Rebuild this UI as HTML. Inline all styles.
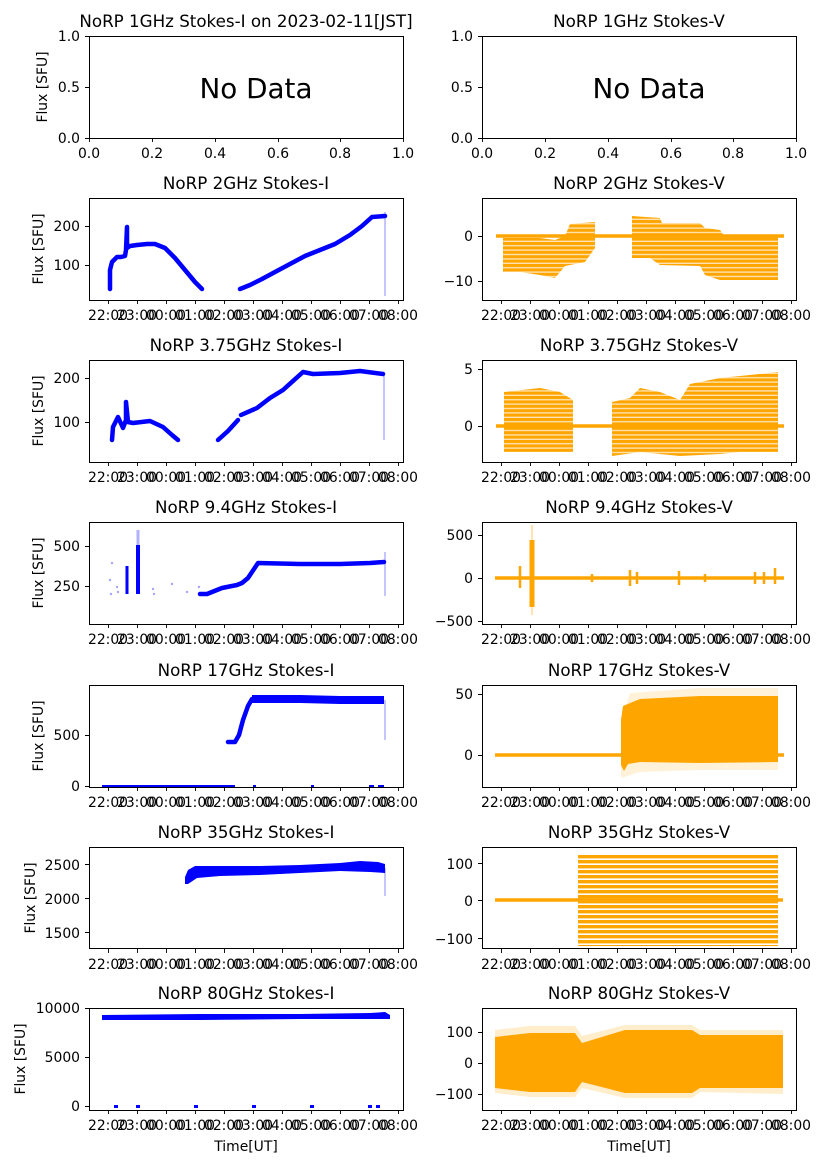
<!DOCTYPE html>
<html><head><meta charset="utf-8"><style>
html,body{margin:0;padding:0;background:#fff}
svg{display:block}
text{font-family:"DejaVu Sans","Liberation Sans",sans-serif;fill:#000}
.t{font-size:16.7px;text-anchor:middle}
.k{font-size:13.9px;text-anchor:middle}
.l{font-size:13.9px;text-anchor:middle}
.y{font-size:13.9px;text-anchor:end}
.ax{fill:none;stroke:#000;stroke-width:1}
.tk{stroke:#000;stroke-width:0.9}
.b{fill:none;stroke:#0000ff;stroke-width:4.5;stroke-linejoin:round;stroke-linecap:round}
.bs{stroke:#0000ff;stroke-width:1.5;opacity:0.3}
.ol{stroke:#ffa500;stroke-width:3.5}
</style></head><body>
<svg width="827" height="1169" viewBox="0 0 827 1169" xmlns="http://www.w3.org/2000/svg">
<defs>
<pattern id="st" width="10" height="4.4" patternUnits="userSpaceOnUse"><rect width="10" height="3.2" fill="#ffa500"/><rect y="3.2" width="10" height="1.2" fill="#ffe2b0"/></pattern>
<pattern id="st6" width="10" height="5" patternUnits="userSpaceOnUse"><rect width="10" height="3.4" fill="#ffa500"/></pattern>
</defs>

<!-- Row 1 -->
<text class="t" x="246" y="27">NoRP 1GHz Stokes-I on 2023-02-11[JST]</text>
<text class="t" x="639" y="27">NoRP 1GHz Stokes-V</text>
<rect class="ax" x="89.5" y="36.5" width="314" height="102"/>
<rect class="ax" x="482.5" y="36.5" width="314" height="102"/>
<text x="256" y="98" style="font-size:27.8px;text-anchor:middle">No Data</text>
<text x="649" y="98" style="font-size:27.8px;text-anchor:middle">No Data</text>
<g class="tk"><path d="M85 36.5h4M85 87.5h4M85 138.5h4M478 36.5h4M478 87.5h4M478 138.5h4"/>
<path d="M89.5 138v4M152.5 138v4M215.5 138v4M278.5 138v4M340.5 138v4M403.5 138v4M482.5 138v4M545.5 138v4M608.5 138v4M671.5 138v4M733.5 138v4M796.5 138v4"/></g>
<text class="y" x="80" y="41">1.0</text><text class="y" x="80" y="92">0.5</text><text class="y" x="80" y="143">0.0</text>
<text class="y" x="473" y="41">1.0</text><text class="y" x="473" y="92">0.5</text><text class="y" x="473" y="143">0.0</text>
<g class="k"><text x="89" y="158">0.0</text><text x="152" y="158">0.2</text><text x="215" y="158">0.4</text><text x="278" y="158">0.6</text><text x="340" y="158">0.8</text><text x="403" y="158">1.0</text>
<text x="482" y="158">0.0</text><text x="545" y="158">0.2</text><text x="608" y="158">0.4</text><text x="671" y="158">0.6</text><text x="733" y="158">0.8</text><text x="796" y="158">1.0</text></g>
<text class="l" transform="translate(47,87) rotate(-90)">Flux [SFU]</text>

<!-- Row 2 -->
<text class="t" x="246" y="189">NoRP 2GHz Stokes-I</text>
<text class="t" x="639" y="189">NoRP 2GHz Stokes-V</text>
<polyline class="b" points="110,289 110,270 112,262 117,257 121,257 125,256 126,250 127,227 127,248 130,246 137,245 147,244 155,244 165,248 175,258 185,270 195,282 202,289"/>
<polyline class="b" points="240,289 250,285 262,279 275,272 290,264 305,256 320,250 335,244 350,235 362,226 372,217 385,216"/>
<line class="bs" x1="385" y1="212" x2="385" y2="296"/>
<polygon fill="url(#st)" points="503,238 540,238 555,240 565,236 570,224 595,222 595,248 585,262 565,266 555,278 540,275 520,272 503,272"/>
<polygon fill="url(#st)" points="632,216 660,218 662,223 700,223 705,228 720,230 725,237 778,237 778,280 720,280 705,275 700,266 660,265 650,258 632,258"/>
<line class="ol" x1="496" y1="236" x2="784" y2="236"/>
<rect class="ax" x="89.5" y="198.5" width="314" height="102"/>
<rect class="ax" x="482.5" y="198.5" width="314" height="102"/>
<g class="tk"><path d="M85 226.5h4M85 265.5h4M478 236.5h4M478 281.5h4"/></g>
<text class="y" x="80" y="231">200</text><text class="y" x="80" y="270">100</text>
<text class="y" x="473" y="241">0</text><text class="y" x="473" y="286">−10</text>
<text class="l" transform="translate(43,249) rotate(-90)">Flux [SFU]</text>

<!-- Row 3 -->
<text class="t" x="246" y="351">NoRP 3.75GHz Stokes-I</text>
<text class="t" x="639" y="351">NoRP 3.75GHz Stokes-V</text>
<polyline class="b" points="112,440 113,427 118,417 123,428 126,420 126,402 128,422 133,423 150,421 163,427 172,435 178,440"/>
<polyline class="b" points="218,440 228,431 238,420"/>
<polyline class="b" points="241,415 257,408 270,398 283,390 303,372 313,374 340,373 360,371 383,374"/>
<line class="bs" x1="384" y1="372" x2="384" y2="440"/>
<polygon fill="url(#st)" points="504,392 540,388 560,392 573,400 573,452 504,452"/>
<polygon fill="url(#st)" points="612,402 630,398 640,388 660,392 680,400 690,384 720,378 740,376 778,372 778,452 740,452 720,454 680,456 640,452 612,456"/>
<line class="ol" x1="496" y1="426" x2="784" y2="426"/>
<rect class="ax" x="89.5" y="360.5" width="314" height="102"/>
<rect class="ax" x="482.5" y="360.5" width="314" height="102"/>
<g class="tk"><path d="M85 378.5h4M85 422.5h4M478 369.5h4M478 426.5h4"/></g>
<text class="y" x="80" y="383">200</text><text class="y" x="80" y="427">100</text>
<text class="y" x="473" y="374">5</text><text class="y" x="473" y="431">0</text>
<text class="l" transform="translate(43,411) rotate(-90)">Flux [SFU]</text>

<!-- Row 4 -->
<text class="t" x="246" y="513">NoRP 9.4GHz Stokes-I</text>
<text class="t" x="639" y="513">NoRP 9.4GHz Stokes-V</text>
<line x1="127" y1="566" x2="127" y2="594" stroke="#0000ff" stroke-width="3"/>
<line x1="138" y1="545" x2="138" y2="594" stroke="#0000ff" stroke-width="4"/>
<line class="bs" x1="138" y1="530" x2="138" y2="545" style="stroke-width:3"/>
<polyline class="b" points="200,594 207,594 222,588 237,585 242,583 248,578 258,563 300,564 340,564 370,563 384,562"/>
<line class="bs" x1="385" y1="552" x2="385" y2="596"/>
<g fill="#0000ff" opacity="0.35"><circle cx="110" cy="580" r="1.2"/><circle cx="111" cy="594" r="1.2"/><circle cx="112" cy="563" r="1.2"/><circle cx="117" cy="587" r="1.2"/><circle cx="118" cy="592" r="1.2"/><circle cx="153" cy="589" r="1.2"/><circle cx="154" cy="594" r="1.2"/><circle cx="172" cy="584" r="1.2"/><circle cx="187" cy="592" r="1.2"/><circle cx="199" cy="587" r="1.2"/></g>
<line class="ol" x1="495" y1="578" x2="784" y2="578"/>
<line x1="532" y1="540" x2="532" y2="607" stroke="#ffa500" stroke-width="5"/>
<line x1="532" y1="525" x2="532" y2="615" stroke="#ffa500" stroke-width="2" opacity="0.3"/>
<g stroke="#ffa500" stroke-width="2.5"><path d="M520 566v22M630 570v16M637 572v12M679 571v14M755 572v12M764 572v12M775 568v16M592 574v8M705 574v8"/></g>
<rect class="ax" x="89.5" y="522.5" width="314" height="102"/>
<rect class="ax" x="482.5" y="522.5" width="314" height="102"/>
<g class="tk"><path d="M85 546.5h4M85 586.5h4M478 535.5h4M478 578.5h4M478 621.5h4"/></g>
<text class="y" x="80" y="551">500</text><text class="y" x="80" y="591">250</text>
<text class="y" x="473" y="540">500</text><text class="y" x="473" y="583">0</text><text class="y" x="473" y="626">−500</text>
<text class="l" transform="translate(43,573) rotate(-90)">Flux [SFU]</text>

<!-- Row 5 -->
<text class="t" x="246" y="676">NoRP 17GHz Stokes-I</text>
<text class="t" x="639" y="676">NoRP 17GHz Stokes-V</text>
<polyline class="b" points="228,742 235,742 239,735 243,720 248,706 252,699"/>
<polygon fill="#0000ff" points="252,695 300,695 340,696 384,696 384,704 340,704 300,703 252,703"/>
<line class="bs" x1="385" y1="700" x2="385" y2="740"/>
<line x1="102" y1="786" x2="235" y2="786" stroke="#0000ff" stroke-width="2"/>
<g stroke="#0000ff" stroke-width="2"><path d="M253 786h3M311 786h3M369 786h5M378 786h6"/></g>
<polygon points="621,720 630,693 700,688 778,688 778,770 700,770 640,772 621,778" fill="#ffa500" opacity="0.15"/>
<polygon points="621,720 623,706 640,699 700,696 778,696 778,762 700,763 640,762 628,764 624,771 621,765" fill="#ffa500"/>
<line class="ol" x1="495" y1="755" x2="784" y2="755"/>
<rect class="ax" x="89.5" y="685.5" width="314" height="102"/>
<rect class="ax" x="482.5" y="685.5" width="314" height="102"/>
<g class="tk"><path d="M85 735.5h4M85 786.5h4M478 694.5h4M478 755.5h4"/></g>
<text class="y" x="80" y="740">500</text><text class="y" x="80" y="791">0</text>
<text class="y" x="473" y="699">50</text><text class="y" x="473" y="760">0</text>
<text class="l" transform="translate(43,736) rotate(-90)">Flux [SFU]</text>

<!-- Row 6 -->
<text class="t" x="246" y="838">NoRP 35GHz Stokes-I</text>
<text class="t" x="639" y="838">NoRP 35GHz Stokes-V</text>
<polygon fill="#0000ff" points="185,877 188,870 195,866 220,866 260,866 300,865 340,863 360,861 378,862 385,864 385,873 370,872 340,871 300,873 260,875 220,876 197,878 188,884 185,884"/>
<line class="bs" x1="385" y1="868" x2="385" y2="896"/>
<rect x="578" y="855" width="200" height="91" fill="url(#st6)"/>
<line class="ol" x1="495" y1="900" x2="783" y2="900"/>
<rect class="ax" x="89.5" y="847.5" width="314" height="101"/>
<rect class="ax" x="482.5" y="847.5" width="314" height="101"/>
<g class="tk"><path d="M85 864.5h4M85 898.5h4M85 932.5h4M478 863.5h4M478 900.5h4M478 938.5h4"/></g>
<text class="y" x="80" y="870">2500</text><text class="y" x="80" y="904">2000</text><text class="y" x="80" y="938">1500</text>
<text class="y" x="473" y="869">100</text><text class="y" x="473" y="906">0</text><text class="y" x="473" y="944">−100</text>
<text class="l" transform="translate(35,898) rotate(-90)">Flux [SFU]</text>

<!-- Row 7 -->
<text class="t" x="246" y="999">NoRP 80GHz Stokes-I</text>
<text class="t" x="639" y="999">NoRP 80GHz Stokes-V</text>
<polygon fill="#0000ff" points="102,1015 200,1014 300,1014 370,1013 385,1012 390,1015 390,1019 370,1019 300,1019 200,1020 102,1020"/>
<g fill="#0000ff"><rect x="114" y="1105" width="4" height="3"/><rect x="136" y="1105" width="4" height="3"/><rect x="194" y="1105" width="4" height="3"/><rect x="252" y="1105" width="4" height="3"/><rect x="310" y="1105" width="4" height="3"/><rect x="368" y="1105" width="4" height="3"/><rect x="376" y="1105" width="4" height="3"/></g>
<polygon points="495,1030 530,1026 575,1026 582,1036 625,1025 692,1025 700,1030 783,1030 783,1094 700,1092 692,1098 625,1098 582,1088 575,1097 530,1097 495,1093" fill="#ffa500" opacity="0.2"/>
<polygon points="495,1037 530,1033 575,1033 582,1043 625,1030 692,1030 700,1035 783,1035 783,1088 700,1088 692,1093 625,1093 582,1082 575,1092 530,1092 495,1088" fill="#ffa500"/>
<rect class="ax" x="89.5" y="1008.5" width="314" height="102"/>
<rect class="ax" x="482.5" y="1008.5" width="314" height="102"/>
<g class="tk"><path d="M85 1008.5h4M85 1057.5h4M85 1106.5h4M478 1032.5h4M478 1063.5h4M478 1094.5h4"/></g>
<text class="y" x="80" y="1013">10000</text><text class="y" x="80" y="1062">5000</text><text class="y" x="80" y="1111">0</text>
<text class="y" x="473" y="1037">100</text><text class="y" x="473" y="1068">0</text><text class="y" x="473" y="1099">−100</text>
<text class="l" transform="translate(25,1059) rotate(-90)">Flux [SFU]</text>
<text class="l" x="246" y="1151">Time[UT]</text>
<text class="l" x="639" y="1151">Time[UT]</text>

<!-- x time ticks -->
<g class="tk">
<path d="M108.5 300v4M137.5 300v4M166.5 300v4M195.5 300v4M224.5 300v4M253.5 300v4M282.5 300v4M311.5 300v4M340.5 300v4M369.5 300v4M398.5 300v4M501.5 300v4M530.5 300v4M559.5 300v4M588.5 300v4M617.5 300v4M646.5 300v4M675.5 300v4M704.5 300v4M733.5 300v4M762.5 300v4M791.5 300v4"/>
<path d="M108.5 462v4M137.5 462v4M166.5 462v4M195.5 462v4M224.5 462v4M253.5 462v4M282.5 462v4M311.5 462v4M340.5 462v4M369.5 462v4M398.5 462v4M501.5 462v4M530.5 462v4M559.5 462v4M588.5 462v4M617.5 462v4M646.5 462v4M675.5 462v4M704.5 462v4M733.5 462v4M762.5 462v4M791.5 462v4"/>
<path d="M108.5 624v4M137.5 624v4M166.5 624v4M195.5 624v4M224.5 624v4M253.5 624v4M282.5 624v4M311.5 624v4M340.5 624v4M369.5 624v4M398.5 624v4M501.5 624v4M530.5 624v4M559.5 624v4M588.5 624v4M617.5 624v4M646.5 624v4M675.5 624v4M704.5 624v4M733.5 624v4M762.5 624v4M791.5 624v4"/>
<path d="M108.5 787v4M137.5 787v4M166.5 787v4M195.5 787v4M224.5 787v4M253.5 787v4M282.5 787v4M311.5 787v4M340.5 787v4M369.5 787v4M398.5 787v4M501.5 787v4M530.5 787v4M559.5 787v4M588.5 787v4M617.5 787v4M646.5 787v4M675.5 787v4M704.5 787v4M733.5 787v4M762.5 787v4M791.5 787v4"/>
<path d="M108.5 949v4M137.5 949v4M166.5 949v4M195.5 949v4M224.5 949v4M253.5 949v4M282.5 949v4M311.5 949v4M340.5 949v4M369.5 949v4M398.5 949v4M501.5 949v4M530.5 949v4M559.5 949v4M588.5 949v4M617.5 949v4M646.5 949v4M675.5 949v4M704.5 949v4M733.5 949v4M762.5 949v4M791.5 949v4"/>
<path d="M108.5 1110v4M137.5 1110v4M166.5 1110v4M195.5 1110v4M224.5 1110v4M253.5 1110v4M282.5 1110v4M311.5 1110v4M340.5 1110v4M369.5 1110v4M398.5 1110v4M501.5 1110v4M530.5 1110v4M559.5 1110v4M588.5 1110v4M617.5 1110v4M646.5 1110v4M675.5 1110v4M704.5 1110v4M733.5 1110v4M762.5 1110v4M791.5 1110v4"/>
</g>
<g class="k">
<text x="108" y="320">22:00</text><text x="137" y="320">23:00</text><text x="166" y="320">00:00</text><text x="195" y="320">01:00</text><text x="224" y="320">02:00</text><text x="253" y="320">03:00</text><text x="282" y="320">04:00</text><text x="311" y="320">05:00</text><text x="340" y="320">06:00</text><text x="369" y="320">07:00</text><text x="398" y="320">08:00</text>
<text x="501" y="320">22:00</text><text x="530" y="320">23:00</text><text x="559" y="320">00:00</text><text x="588" y="320">01:00</text><text x="617" y="320">02:00</text><text x="646" y="320">03:00</text><text x="675" y="320">04:00</text><text x="704" y="320">05:00</text><text x="733" y="320">06:00</text><text x="762" y="320">07:00</text><text x="791" y="320">08:00</text>
<text x="108" y="482">22:00</text><text x="137" y="482">23:00</text><text x="166" y="482">00:00</text><text x="195" y="482">01:00</text><text x="224" y="482">02:00</text><text x="253" y="482">03:00</text><text x="282" y="482">04:00</text><text x="311" y="482">05:00</text><text x="340" y="482">06:00</text><text x="369" y="482">07:00</text><text x="398" y="482">08:00</text>
<text x="501" y="482">22:00</text><text x="530" y="482">23:00</text><text x="559" y="482">00:00</text><text x="588" y="482">01:00</text><text x="617" y="482">02:00</text><text x="646" y="482">03:00</text><text x="675" y="482">04:00</text><text x="704" y="482">05:00</text><text x="733" y="482">06:00</text><text x="762" y="482">07:00</text><text x="791" y="482">08:00</text>
<text x="108" y="644">22:00</text><text x="137" y="644">23:00</text><text x="166" y="644">00:00</text><text x="195" y="644">01:00</text><text x="224" y="644">02:00</text><text x="253" y="644">03:00</text><text x="282" y="644">04:00</text><text x="311" y="644">05:00</text><text x="340" y="644">06:00</text><text x="369" y="644">07:00</text><text x="398" y="644">08:00</text>
<text x="501" y="644">22:00</text><text x="530" y="644">23:00</text><text x="559" y="644">00:00</text><text x="588" y="644">01:00</text><text x="617" y="644">02:00</text><text x="646" y="644">03:00</text><text x="675" y="644">04:00</text><text x="704" y="644">05:00</text><text x="733" y="644">06:00</text><text x="762" y="644">07:00</text><text x="791" y="644">08:00</text>
<text x="108" y="807">22:00</text><text x="137" y="807">23:00</text><text x="166" y="807">00:00</text><text x="195" y="807">01:00</text><text x="224" y="807">02:00</text><text x="253" y="807">03:00</text><text x="282" y="807">04:00</text><text x="311" y="807">05:00</text><text x="340" y="807">06:00</text><text x="369" y="807">07:00</text><text x="398" y="807">08:00</text>
<text x="501" y="807">22:00</text><text x="530" y="807">23:00</text><text x="559" y="807">00:00</text><text x="588" y="807">01:00</text><text x="617" y="807">02:00</text><text x="646" y="807">03:00</text><text x="675" y="807">04:00</text><text x="704" y="807">05:00</text><text x="733" y="807">06:00</text><text x="762" y="807">07:00</text><text x="791" y="807">08:00</text>
<text x="108" y="969">22:00</text><text x="137" y="969">23:00</text><text x="166" y="969">00:00</text><text x="195" y="969">01:00</text><text x="224" y="969">02:00</text><text x="253" y="969">03:00</text><text x="282" y="969">04:00</text><text x="311" y="969">05:00</text><text x="340" y="969">06:00</text><text x="369" y="969">07:00</text><text x="398" y="969">08:00</text>
<text x="501" y="969">22:00</text><text x="530" y="969">23:00</text><text x="559" y="969">00:00</text><text x="588" y="969">01:00</text><text x="617" y="969">02:00</text><text x="646" y="969">03:00</text><text x="675" y="969">04:00</text><text x="704" y="969">05:00</text><text x="733" y="969">06:00</text><text x="762" y="969">07:00</text><text x="791" y="969">08:00</text>
<text x="108" y="1130">22:00</text><text x="137" y="1130">23:00</text><text x="166" y="1130">00:00</text><text x="195" y="1130">01:00</text><text x="224" y="1130">02:00</text><text x="253" y="1130">03:00</text><text x="282" y="1130">04:00</text><text x="311" y="1130">05:00</text><text x="340" y="1130">06:00</text><text x="369" y="1130">07:00</text><text x="398" y="1130">08:00</text>
<text x="501" y="1130">22:00</text><text x="530" y="1130">23:00</text><text x="559" y="1130">00:00</text><text x="588" y="1130">01:00</text><text x="617" y="1130">02:00</text><text x="646" y="1130">03:00</text><text x="675" y="1130">04:00</text><text x="704" y="1130">05:00</text><text x="733" y="1130">06:00</text><text x="762" y="1130">07:00</text><text x="791" y="1130">08:00</text>
</g>
</svg>
</body></html>
